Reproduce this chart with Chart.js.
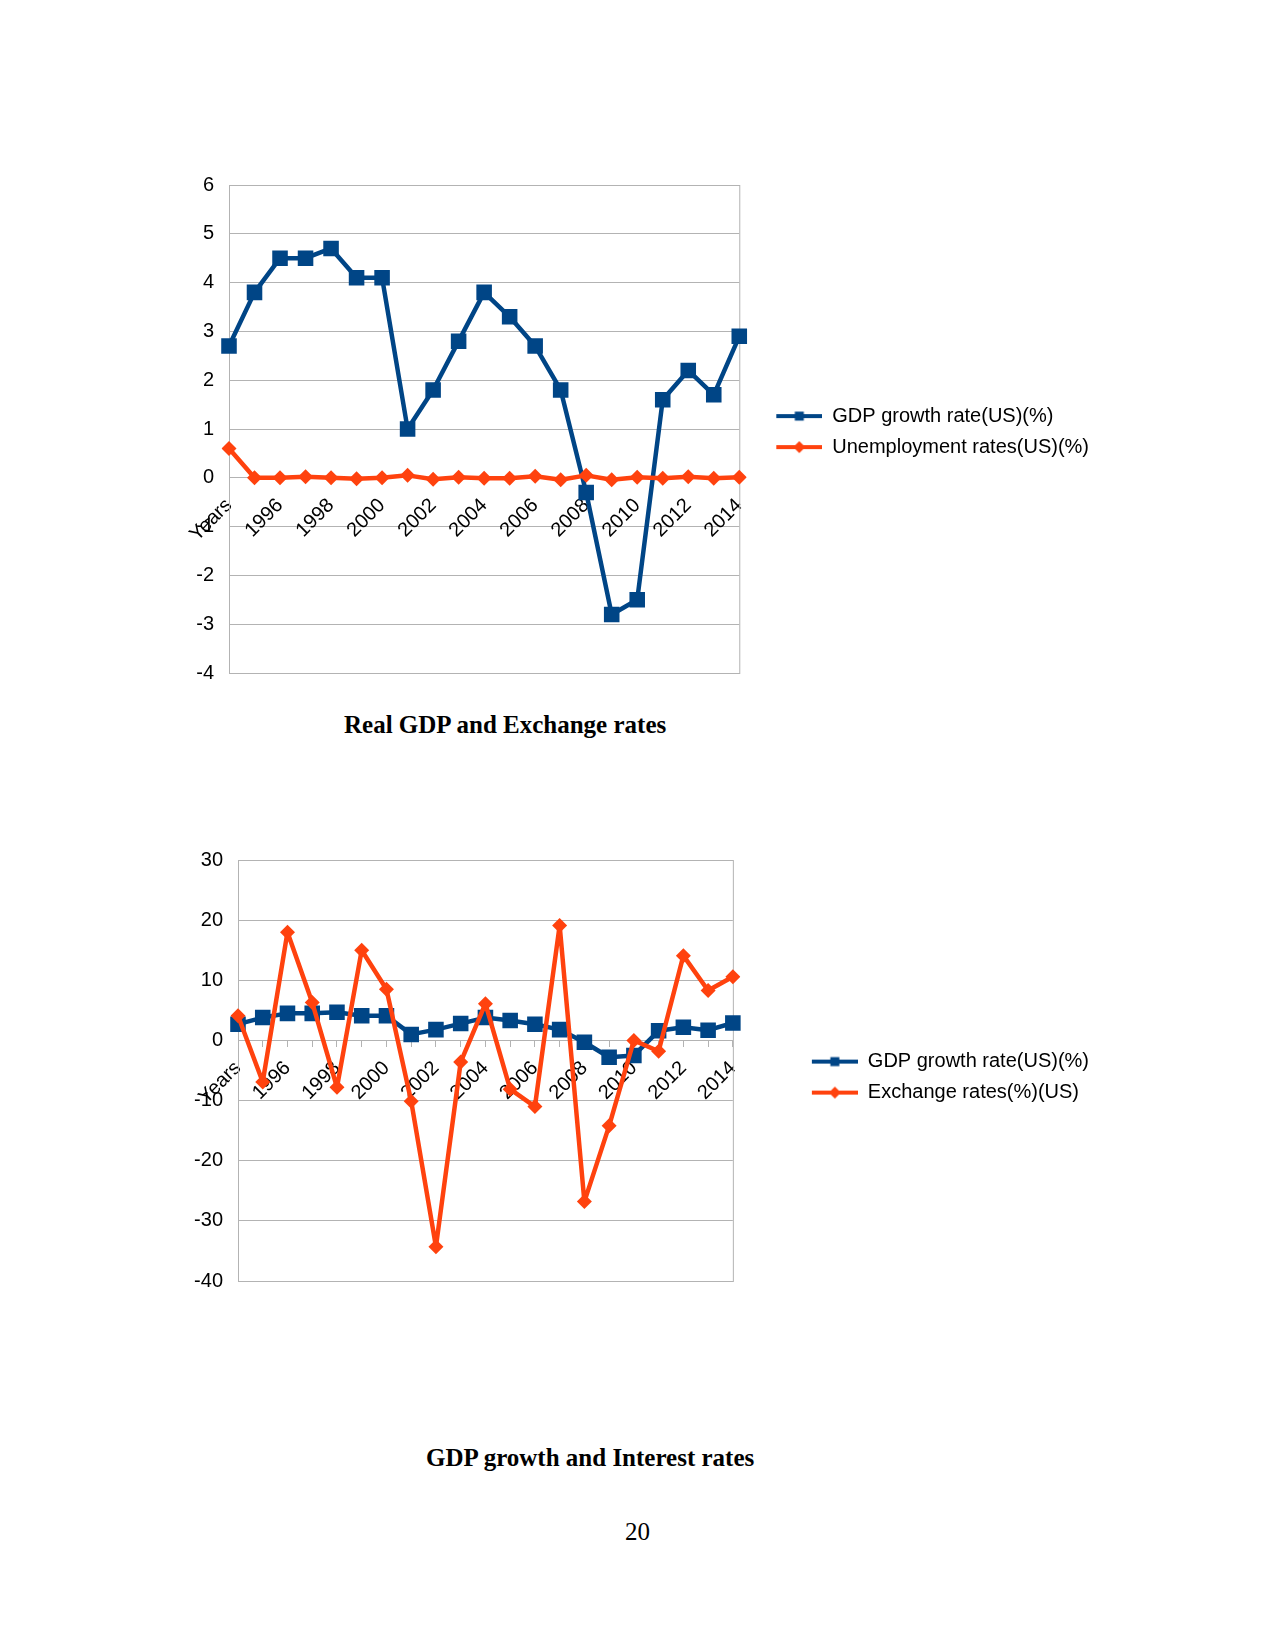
<!DOCTYPE html>
<html>
<head>
<meta charset="utf-8">
<script src="https://cdn.jsdelivr.net/npm/chart.js@4"></script>
<style>
  body { margin: 0; background: #fff; }
  #page { position: relative; width: 1275px; height: 1650px; overflow: hidden; }
  canvas { position: absolute; }
  .caption { position: absolute; font-family: "Liberation Serif", serif; font-size: 25px; line-height: 30px; color: #000; white-space: nowrap; }
  .bold { font-weight: bold; }
</style>
</head>
<body>
<div id="page">
  <canvas id="gdpUnempChart" width="1000" height="560" style="left:150px; top:150px;"></canvas>
  <div class="caption bold" style="left:344px; top:710px;">Real GDP and Exchange rates</div>

  <canvas id="gdpExchChart" width="1000" height="500" style="left:150px; top:820px;"></canvas>
  <div class="caption bold" style="left:426px; top:1443px;">GDP growth and Interest rates</div>

  <div class="caption" style="left:625px; top:1517px;">20</div>
</div>

<script>
// categories (first slot is the "Years" header cell of the source sheet)
const years = ['Years', '1995', '1996', '1997', '1998', '1999', '2000', '2001', '2002', '2003',
  '2004', '2005', '2006', '2007', '2008', '2009', '2010', '2011', '2012', '2013', '2014'];

// series
const gdpGrowth = [2.7, 3.8, 4.5, 4.5, 4.7, 4.1, 4.1, 1.0, 1.8, 2.8, 3.8, 3.3, 2.7, 1.8, -0.3, -2.8, -2.5, 1.6, 2.2, 1.7, 2.9];
const unemployment = [0.6, 0, 0, 0.02, 0, -0.02, 0, 0.05, -0.03, 0.01, -0.01, -0.01, 0.03, -0.04, 0.05, -0.04, 0.01, -0.01, 0.02, -0.01, 0.01];
const exchangeRates = [4.1, -6.9, 18.0, 6.3, -7.8, 15.0, 8.5, -10.1, -34.3, -3.6, 6.1, -8.1, -11.0, 19.1, -26.8, -14.2, 0.0, -1.8, 14.1, 8.3, 10.6];

// y axis ranges
const gdpAxis = { min: -4, max: 6, step: 1 };
const exchAxis = { min: -40, max: 30, step: 10 };

const BLUE = '#004586';
const ORANGE = '#ff420e';
const GRID = '#b3b3b3';

Chart.defaults.font.family = '"Liberation Sans", Arial, sans-serif';
Chart.defaults.font.size = 20;
Chart.defaults.color = '#000';

// legend key: line with marker, with blank space on the left to push it away from the plot
function legendKey(color, shape, blank) {
  const c = document.createElement('canvas');
  c.width = blank + 46;
  c.height = 20;
  const g = c.getContext('2d');
  g.strokeStyle = color;
  g.lineWidth = 4;
  g.beginPath();
  g.moveTo(blank, 10);
  g.lineTo(blank + 46, 10);
  g.stroke();
  g.fillStyle = color;
  const cx = blank + 23;
  if (shape === 'rect') {
    g.fillRect(cx - 4.5, 5.5, 9, 9);
  } else {
    g.beginPath();
    g.moveTo(cx - 6, 10); g.lineTo(cx, 4); g.lineTo(cx + 6, 10); g.lineTo(cx, 16);
    g.closePath();
    g.fill();
  }
  return c;
}

const framePlugin = {
  id: 'frame',
  beforeDatasetsDraw(chart) {
    const a = chart.chartArea, ctx = chart.ctx;
    ctx.save();
    ctx.strokeStyle = GRID;
    ctx.lineWidth = 1;
    ctx.strokeRect(a.left + 0.5, a.top + 0.5, a.right - a.left, a.bottom - a.top);
    ctx.restore();
  }
};

function makeChart(canvasId, second, axis, opts) {
  const keys = [legendKey(BLUE, 'rect', opts.keyBlank), legendKey(ORANGE, 'diamond', opts.keyBlank)];
  return new Chart(document.getElementById(canvasId), {
    type: 'line',
    data: {
      labels: years,
      datasets: [
        {
          label: 'GDP growth rate(US)(%)',
          data: gdpGrowth,
          borderColor: BLUE,
          backgroundColor: BLUE,
          borderWidth: 4.5,
          borderJoinStyle: 'round',
          pointStyle: 'rect',
          pointRadius: 11,
          pointBorderWidth: 0,
          tension: 0,
          order: 1
        },
        {
          label: second.label,
          data: second.data,
          borderColor: ORANGE,
          backgroundColor: ORANGE,
          borderWidth: 4.5,
          borderJoinStyle: 'round',
          pointStyle: 'rectRot',
          pointRadius: 7.5,
          pointBorderWidth: 0,
          tension: 0,
          order: 0
        }
      ]
    },
    options: {
      responsive: false,
      animation: false,
      devicePixelRatio: 1,
      layout: { padding: opts.padding },
      plugins: {
        legend: {
          position: 'right',
          maxWidth: 600,
          // empty title only nudges the legend rows down a little
          title: { display: true, text: ' ', font: { size: 1 }, padding: opts.legendNudge },
          labels: {
            usePointStyle: true,
            pointStyleWidth: keys[0].width,
            padding: 11,
            font: { size: 20 },
            generateLabels: (chart) => chart.data.datasets.map((ds, i) => ({
              text: ds.label,
              pointStyle: keys[i],
              fillStyle: ds.borderColor,
              strokeStyle: ds.borderColor,
              lineWidth: 0,
              hidden: false,
              datasetIndex: i,
              fontColor: '#000'
            }))
          }
        },
        tooltip: { enabled: false }
      },
      scales: {
        x: {
          type: 'category',
          position: { y: 0 },
          border: { display: false },
          grid: {
            display: opts.zeroTicks,
            drawOnChartArea: false,
            drawTicks: opts.zeroTicks,
            tickLength: 7,
            color: GRID
          },
          ticks: {
            autoSkip: false,
            minRotation: 45,
            maxRotation: 45,
            padding: opts.zeroTicks ? 9 : 16,
            callback: (v, i) => (i % 2 === 0 ? years[i] : '')
          }
        },
        y: {
          min: axis.min,
          max: axis.max,
          afterFit: (s) => { s.width = 60; },
          border: { display: true, color: GRID },
          grid: { color: GRID, drawTicks: false },
          ticks: { stepSize: axis.step, padding: 15 }
        }
      }
    },
    plugins: [framePlugin]
  });
}

makeChart('gdpUnempChart',
  { label: 'Unemployment rates(US)(%)', data: unemployment },
  gdpAxis,
  { padding: { left: 19, top: 35, bottom: 37, right: 51 }, keyBlank: 26, zeroTicks: false, legendNudge: 2 });

makeChart('gdpExchChart',
  { label: 'Exchange rates(%)(US)', data: exchangeRates },
  exchAxis,
  { padding: { left: 28, top: 40, bottom: 39, right: 51 }, keyBlank: 68, zeroTicks: true, legendNudge: 6 });
</script>
</body>
</html>
